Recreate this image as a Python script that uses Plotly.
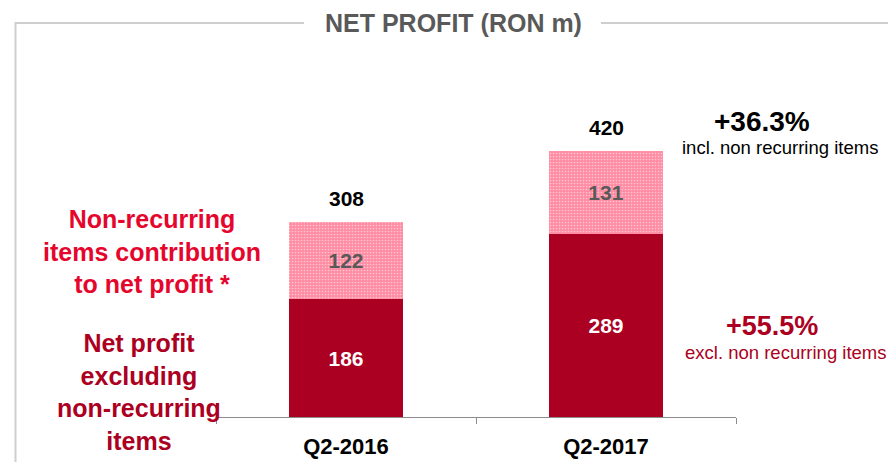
import plotly.graph_objects as go

categories = ["Q2-2016", "Q2-2017"]
recurring = [186, 289]
non_recurring = [122, 131]
totals = [308, 420]

# browser places the plot div at an 8px body margin
OFF = 8
W, H = 896 - OFF, 462 - OFF
FONT = "Liberation Sans, Arial, sans-serif"
DARK_RED = "#AC0022"
BRIGHT_RED = "#E5062D"
GRAY = "#595959"


def px(x):
    return (x - OFF) / W


def py(y):
    return 1 - (y - OFF) / H


AX_L, AX_R, AX_Y = 216, 736, 417
SCALE = 0.634  # px per unit

fig = go.Figure()
fig.add_trace(go.Bar(
    x=categories, y=recurring, name="Net profit excl. non-recurring",
    marker=dict(color=DARK_RED, line=dict(width=0)),
    text=[str(v) for v in recurring], textposition="inside", insidetextanchor="middle",
    textfont=dict(color="white", size=21, family=FONT, weight="bold"),
    width=0.435,
))
fig.add_trace(go.Bar(
    x=categories, y=non_recurring, name="Non-recurring",
    marker=dict(color="#FF90A5", line=dict(width=0),
                pattern=dict(shape=".", fgcolor="white", bgcolor="#FF8CA2", size=3, solidity=0.25)),
    text=[str(v) for v in non_recurring], textposition="inside", insidetextanchor="middle",
    textfont=dict(color=GRAY, size=21, family=FONT, weight="bold"),
    width=0.435,
))

for c, t in zip(categories, totals):
    fig.add_annotation(x=c, y=t, xref="x", yref="y", text=f"<b>{t}</b>", showarrow=False,
                       xanchor="center", yanchor="bottom", yshift=10,
                       font=dict(size=21, color="black", family=FONT))

# frame
line = dict(color="#CFCFCF", width=2)
fig.add_shape(type="line", xref="paper", yref="paper", x0=px(15.5), x1=px(15.5), y0=py(22), y1=py(470), line=line)
fig.add_shape(type="line", xref="paper", yref="paper", x0=px(892.5), x1=px(892.5), y0=py(22), y1=py(470), line=line)
fig.add_shape(type="line", xref="paper", yref="paper", x0=px(15.5), x1=px(304), y0=py(23), y1=py(23), line=line)
fig.add_shape(type="line", xref="paper", yref="paper", x0=px(601), x1=px(892.5), y0=py(23), y1=py(23), line=line)


def note(x, y, text, size, color):
    fig.add_annotation(xref="paper", yref="paper", x=px(x), y=py(y), text=text,
                       showarrow=False, xanchor="center", yanchor="middle", align="center",
                       font=dict(size=size, color=color, family=FONT))


note(453, 23, "<b>NET PROFIT (RON m)</b>", 25, GRAY)
note(152, 251, "<b>Non-recurring<br>items contribution<br>to net profit *</b>", 25, BRIGHT_RED)
note(139, 392, "<b>Net profit<br>excluding<br>non-recurring<br>items</b>", 25, DARK_RED)
note(762, 121, "<b>+36.3%</b>", 28, "black")
note(780, 148, "incl. non recurring items", 18.5, "black")
note(772, 326, "<b>+55.5%</b>", 27, DARK_RED)
note(786, 352, "excl. non recurring items", 18.5, DARK_RED)

fig.update_layout(
    width=W, height=H, barmode="stack", showlegend=False,
    margin=dict(l=0, r=0, t=0, b=0),
    paper_bgcolor="white", plot_bgcolor="white",
    xaxis=dict(domain=[px(AX_L), px(AX_R)], type="category", tickson="boundaries",
               ticks="outside", ticklen=6, tickcolor="#8C8C8C", tickwidth=1,
               showline=True, linecolor="#8C8C8C", linewidth=1, showgrid=False,
               tickfont=dict(size=22, color="black", family=FONT, weight="bold"),
               ticklabelstandoff=10),
    yaxis=dict(domain=[py(AX_Y), 1], range=[0, (AX_Y - OFF) / SCALE], visible=False, showgrid=False),
)

fig.write_html("out.html")
